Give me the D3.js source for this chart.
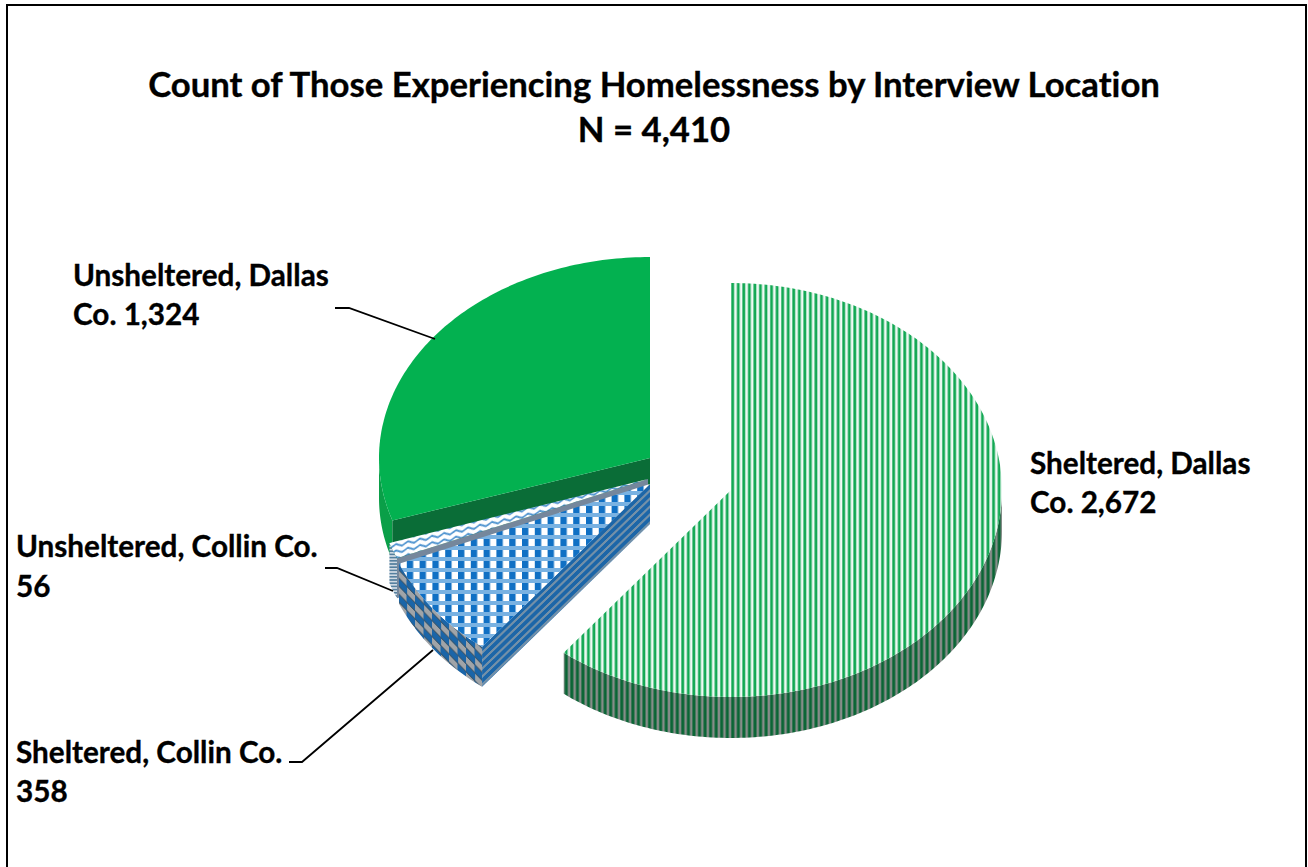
<!DOCTYPE html>
<html>
<head>
<meta charset="utf-8">
<script src="https://cdn.jsdelivr.net/npm/d3@7/dist/d3.min.js"></script>
<style>
html,body{margin:0;padding:0;background:#fff;overflow:hidden}
text{font-family:Lato,"Open Sans",sans-serif;font-weight:700;fill:#000;stroke:#000;stroke-width:.35;font-variant-ligatures:none}
</style>
</head>
<body>
<script>
// Interview-location counts, in clockwise drawing order from twelve o'clock
const categories = ["Sheltered, Dallas Co.", "Sheltered, Collin Co.", "Unsheltered, Collin Co.", "Unsheltered, Dallas Co."];
const counts = [2672, 358, 56, 1324];
const titleLines = ["Count of Those Experiencing Homelessness by Interview Location", "N = 4,410"];

// Exploded slice layout: centre, radii and thickness of each tilted wedge
const sliceLayout = [
  {cx:731, cy:490, rx:271, ry:207, depth:41, top:"url(#vstripe)", side:"url(#vstripeSide)", face:null},
  {cx:650, cy:484, rx:272, ry:207, depth:40, top:"url(#gingham)", side:"url(#ginghamSide)", face:"url(#bandFace)"},
  {cx:648, cy:479, rx:272, ry:206, depth:40, top:"url(#wave)", side:"url(#waveSide)", face:"#75879c"},
  {cx:650, cy:458, rx:271, ry:201, depth:40, top:"#03b150", side:"#0a9f48", face:"#0a6d37"}
];
// Label placement: text lines with their baselines, and leader polylines
const labelLayout = [
  {x:1030, y:[474,513], lines:["Sheltered, Dallas","Co. 2,672"], leader:null},
  {x:16, y:[763,802], lines:["Sheltered, Collin Co.","358"], leader:[[289,762],[302,762],[433,650]]},
  {x:16, y:[557,597], lines:["Unsheltered, Collin Co.","56"], leader:[[325,568],[337,568],[393,591]]},
  {x:73, y:[286,325], lines:["Unsheltered, Dallas","Co. 1,324"], leader:[[335,308],[349,308],[435,339]]}
];

const W = 1308, H = 867;
const svg = d3.select("body").append("svg").attr("width", W).attr("height", H);
const defs = svg.append("defs");

function pattern(id, w, h, transform) {
  const p = defs.append("pattern").attr("id", id).attr("patternUnits", "userSpaceOnUse")
    .attr("width", w).attr("height", h);
  if (transform) p.attr("patternTransform", transform);
  return p;
}
function block(p, x, y, w, h, fill) {
  p.append("rect").attr("x", x).attr("y", y).attr("width", w).attr("height", h).attr("fill", fill);
}

// Narrow vertical stripes on the large slice
let p = pattern("vstripe", 5.55, 10, "translate(731,0)");
block(p, 0, 0, 5.55, 10, "#f3fbf7");
block(p, 0.3, 0, 2.8, 10, "#12a853");
block(p, 3.1, 0, 0.7, 10, "#a5dfbf");
p = pattern("vstripeSide", 5.55, 10, "translate(731,0)");
block(p, 0, 0, 5.55, 10, "#878c89");
block(p, 0.3, 0, 3, 10, "#0a6535");

// Check on the Collin sheltered slice: dark and white squares between pale bands
p = pattern("gingham", 12.8, 11, "translate(650,484)");
block(p, 0, 0, 12.8, 11, "#ffffff");
block(p, 0, 0, 6.4, 7, "#1070c4");
block(p, 0, 7, 12.8, 4, "#79b2e2");

// Banded cut face and blocked rim
p = pattern("bandFace", 6, 8, "translate(650,484) skewY(-44)");
block(p, 0, 0, 6, 8, "#1c66a8");
block(p, 0, 5, 6, 3, "#7390a8");
p = pattern("ginghamSide", 17, 16, "translate(398,562) skewY(46)");
block(p, 0, 0, 17, 16, "#a0a4a8");
block(p, 0, 0, 9, 8, "#1a65a8");
block(p, 8.5, 8, 9, 8, "#1a65a8");
block(p, 0, 6.5, 17, 1.5, "#3a5870");
block(p, 0, 14.5, 17, 1.5, "#3a5870");

// Zig-zag on the Collin unsheltered slice
p = pattern("wave", 12, 6.4, "translate(648,478) skewY(-13)");
block(p, 0, 0, 12, 6.4, "#ffffff");
p.append("path").attr("d", "M-3,4.5 L0,1.5 L6,4.5 L12,1.5 L15,3").attr("fill", "none")
  .attr("stroke", "#4f94d0").attr("stroke-width", 1.9);
p = pattern("waveSide", 4, 3.2);
block(p, 0, 0, 4, 3.2, "#cfd9e2");
block(p, 0, 0, 4, 1.6, "#55809f");

// Slice angles come from the pie layout; each wedge is a circle seen at a tilt
const arcs = d3.pie().sort(null).value(d => d)(counts);
const line = d3.line();
const STEP = Math.PI / 180;

const slices = arcs.map((a, i) => {
  const g = sliceLayout[i];
  const x = d3.scaleLinear([-1, 1], [g.cx - g.rx, g.cx + g.rx]);
  const y = d3.scaleLinear([-1, 1], [g.cy + g.ry, g.cy - g.ry]);
  const rim = t => [x(Math.sin(t)), y(Math.cos(t))];
  const sweep = (t0, t1) => d3.range(t0, t1, STEP).concat([t1]).map(rim);
  return {a, g, rim, sweep};
});

function drawSlice(s) {
  const {a, g, rim, sweep} = s;
  const drop = pts => pts.map(q => [q[0], q[1] + g.depth]);
  // outer wall, only on the part of the rim turned toward the viewer
  const from = Math.max(a.startAngle, Math.PI / 2);
  const to = Math.min(a.endAngle, 1.5 * Math.PI);
  if (to > from) {
    const edge = sweep(from, to);
    svg.append("path").attr("d", line(edge.concat(drop(edge).reverse())) + "Z").attr("fill", g.side);
  }
  // cut face along the leading radius
  if (g.face) {
    const top = [[g.cx, g.cy], rim(a.startAngle)];
    svg.append("path").attr("d", line(top.concat(drop(top).reverse())) + "Z").attr("fill", g.face);
  }
  // top surface
  svg.append("path").attr("d", line([[g.cx, g.cy]].concat(sweep(a.startAngle, a.endAngle))) + "Z").attr("fill", g.top);
}

// Back to front
[3, 2, 1, 0].forEach(i => drawSlice(slices[i]));

// Outer frame
svg.append("rect").attr("x", 7).attr("y", 5).attr("width", 1299).attr("height", 900)
  .attr("fill", "none").attr("stroke", "#000").attr("stroke-width", 2);

// Title
svg.selectAll("text.title").data(titleLines).join("text").attr("class", "title")
  .attr("x", 654).attr("y", (d, i) => 97 + i * 45)
  .attr("text-anchor", "middle").attr("font-size", 34.7).text(d => d);

// Data labels and their leaders
labelLayout.forEach(l => {
  l.lines.forEach((t, i) => {
    svg.append("text").attr("x", l.x).attr("y", l.y[i]).attr("font-size", 29.7).text(t);
  });
  if (l.leader) {
    svg.append("path").attr("d", line(l.leader)).attr("fill", "none").attr("stroke", "#000").attr("stroke-width", 1.8);
  }
});
</script>
</body>
</html>
